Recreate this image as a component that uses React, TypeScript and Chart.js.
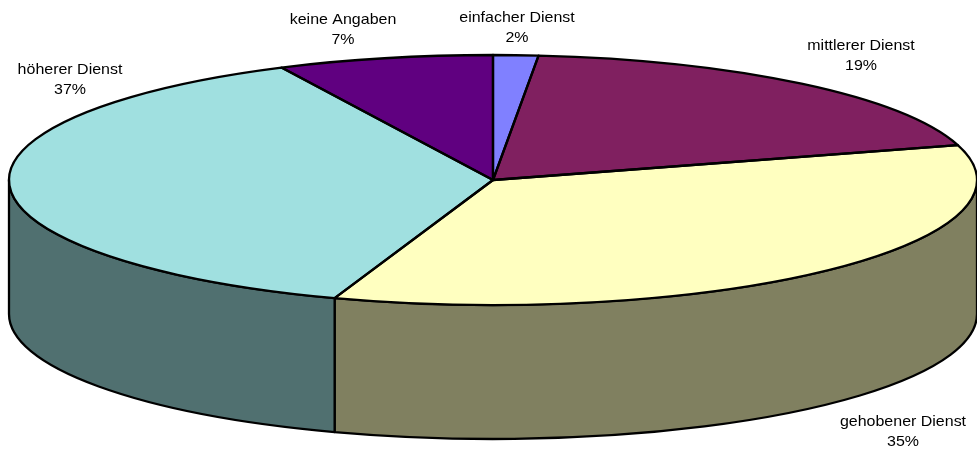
import React, { useEffect, useRef } from "react";
import { Chart, registerables } from "chart.js";

Chart.register(...registerables);

const categories = ["einfacher Dienst", "mittlerer Dienst", "gehobener Dienst", "höherer Dienst", "keine Angaben"];
const values = [1.5, 19.0, 34.8, 37.49, 7.2];
const percentLabels = ["2%", "19%", "35%", "37%", "7%"];
const topColors = ["#8080FF", "#802060", "#FFFFC0", "#A0E0E0", "#600080"];
const sideColors = ["#404080", "#401030", "#808060", "#507070", "#300040"];
const labelCenters = [
  [517, 18],
  [861, 46],
  [903, 422],
  [70, 70],
  [343, 20],
];

const CX = 493;
const CY = 180;
const RX = 484;
const RY = 125;
const DEPTH = 134;
const LINE = 2.3;

function arcs(chart: any) {
  return chart.getDatasetMeta(0).data as any[];
}

const pie3d = {
  id: "pie3d",
  beforeDatasetsDraw(chart: any) {
    const ctx = chart.ctx as CanvasRenderingContext2D;
    ctx.save();
    ctx.lineWidth = LINE;
    ctx.strokeStyle = "#000";
    ctx.lineJoin = "round";
    arcs(chart).forEach((arc, i) => {
      const a0 = Math.max(arc.startAngle, 0);
      const a1 = Math.min(arc.endAngle, Math.PI);
      if (a1 <= a0) return;
      ctx.beginPath();
      ctx.ellipse(CX, CY, RX, RY, 0, a0, a1);
      ctx.lineTo(CX + RX * Math.cos(a1), CY + RY * Math.sin(a1) + DEPTH);
      ctx.ellipse(CX, CY + DEPTH, RX, RY, 0, a1, a0, true);
      ctx.closePath();
      ctx.fillStyle = sideColors[i];
      ctx.fill();
      ctx.stroke();
    });
    ctx.restore();
    const a = arcs(chart)[0];
    const R = a.outerRadius;
    ctx.save();
    ctx.translate(CX, CY);
    ctx.scale(RX / R, RY / R);
    ctx.translate(-a.x, -a.y);
  },
  afterDatasetsDraw(chart: any) {
    const ctx = chart.ctx as CanvasRenderingContext2D;
    ctx.restore();
    ctx.save();
    ctx.lineWidth = LINE;
    ctx.strokeStyle = "#000";
    ctx.lineJoin = "round";
    arcs(chart).forEach((arc) => {
      ctx.beginPath();
      ctx.moveTo(CX, CY);
      ctx.ellipse(CX, CY, RX, RY, 0, arc.startAngle, arc.endAngle);
      ctx.closePath();
      ctx.stroke();
    });
    ctx.fillStyle = "#000";
    ctx.font = '15px "Liberation Sans"';
    ctx.textAlign = "center";
    ctx.textBaseline = "middle";
    categories.forEach((name, i) => {
      const [x, y] = labelCenters[i];
      ctx.save();
      ctx.translate(x, y);
      ctx.scale(1.065, 1);
      ctx.fillText(name, 0, 0);
      ctx.fillText(percentLabels[i], 0, 20);
      ctx.restore();
    });
    ctx.restore();
  },
};

export default function App() {
  const ref = useRef<HTMLCanvasElement>(null);
  useEffect(() => {
    document.body.style.margin = "0";
    const chart = new Chart(ref.current!, {
      type: "pie",
      data: {
        labels: categories,
        datasets: [{ data: values, backgroundColor: topColors, borderWidth: 0 }],
      },
      options: {
        responsive: false,
        animation: false,
        plugins: { legend: { display: false }, tooltip: { enabled: false } },
      },
      plugins: [pie3d],
    } as any);
    return () => chart.destroy();
  }, []);
  return <canvas ref={ref} width={977} height={449} style={{ display: "block" }} />;
}
